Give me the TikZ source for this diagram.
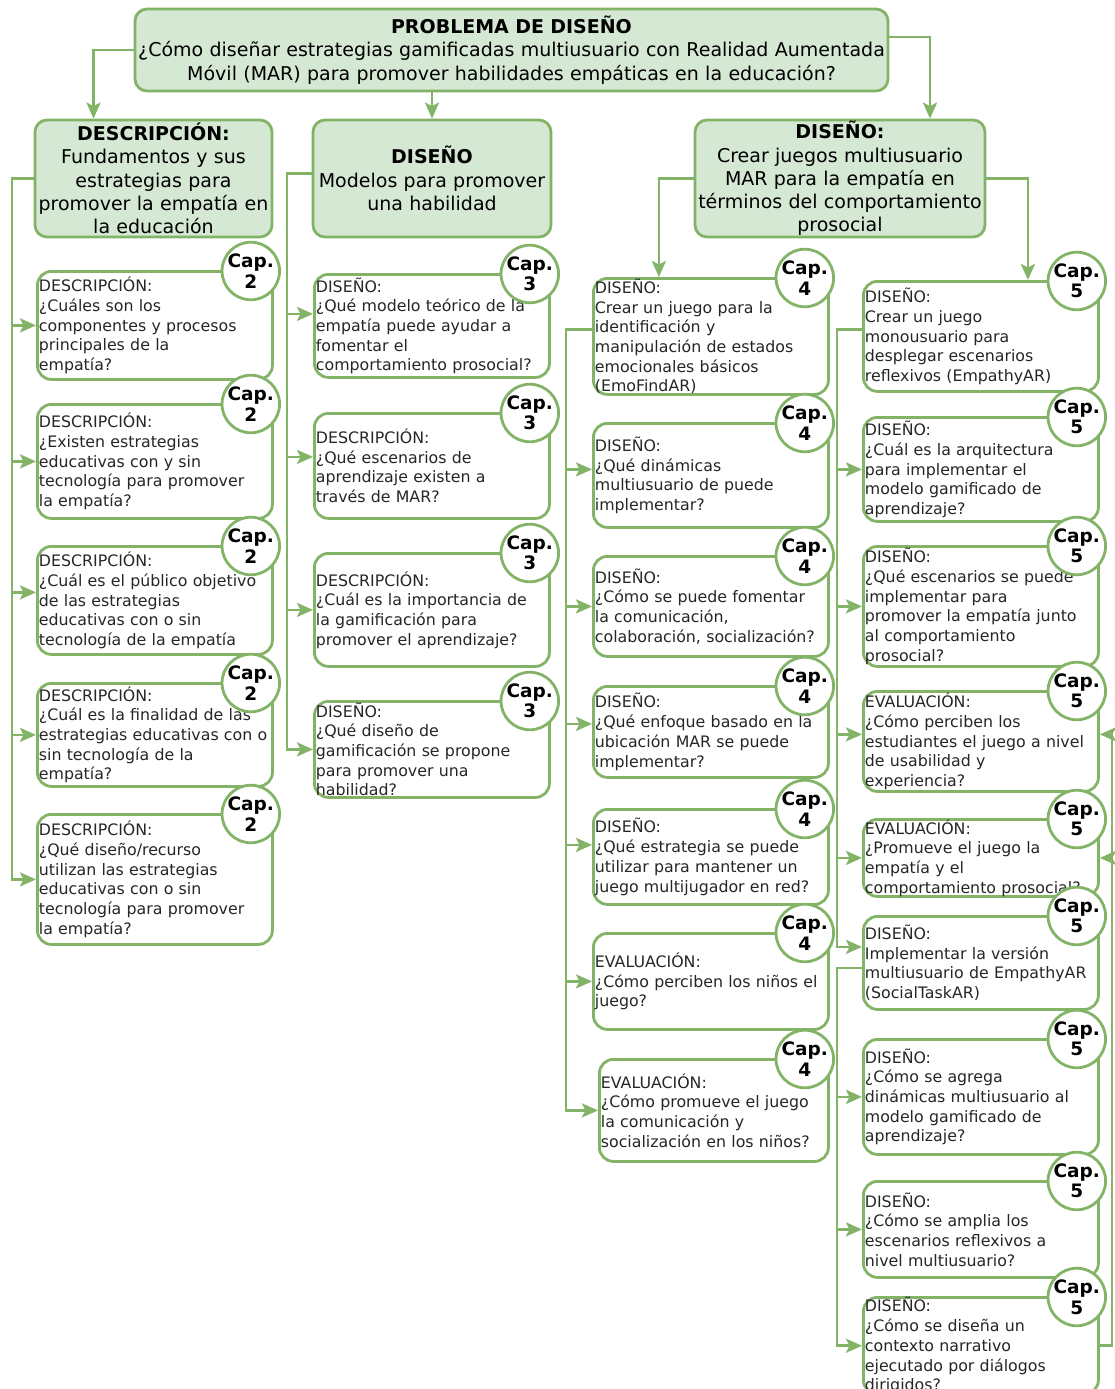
\documentclass[tikz,border=0pt]{standalone}
\usepackage{fontspec}
\setmainfont{DejaVu Sans}
\usetikzlibrary{positioning, arrows.meta}
\definecolor{mGreen}{HTML}{82B366}
\definecolor{mGreenFill}{HTML}{D5E8D4}
\definecolor{mInk}{HTML}{262626}
\newcommand{\qfont}{\fontsize{15.8}{19.7}\selectfont}
\newcommand{\hfont}{\fontsize{19}{23.3}\selectfont}
\newcommand{\cfont}{\fontsize{18.5}{20.5}\selectfont\bfseries}

\begin{document}
\begin{tikzpicture}[
  x=1pt, y=-1pt,
  head/.style={
    fill=mGreenFill,
    draw=mGreen,
    line width=2.8pt,
    rounded corners=12pt,
    align=center,
    font=\hfont,
    text=black,
    inner xsep=-6pt,
    inner ysep=0pt
  },
  ques/.style={
    fill=white,
    draw=mGreen,
    line width=2.8pt,
    rounded corners=14pt,
    align=left,
    font=\qfont,
    text=mInk,
    anchor=north west,
    inner xsep=1.5pt,
    inner ysep=0pt,
    text width=232pt
  },
  chap/.style={
    circle,
    fill=white,
    draw=mGreen,
    line width=2.8pt,
    minimum size=51pt,
    inner sep=0pt,
    align=center,
    font=\cfont
  },
  link/.style={draw=mGreen, line width=2.8pt, -{Stealth[length=16pt, width=14pt, inset=3.5pt]}}
]
\useasboundingbox (0,0) rectangle (1115,1389);

% cabeceras
\node[head, text width=765pt, minimum height=82pt] (prob) at (511.5,50)
{\textbf{PROBLEMA DE DISEÑO}\\¿Cómo diseñar estrategias gamificadas multiusuario con Realidad Aumentada\\Móvil (MAR) para promover habilidades empáticas en la educación?};

\node[head, text width=249pt, minimum height=117pt] (desc) at (153.5,178.5)
{\textbf{DESCRIPCIÓN:}\\Fundamentos y sus\\estrategias para\\promover la empatía en\\la educación};
\node[head, text width=250pt, minimum height=117pt] (dis) at (432,178.5)
{\textbf{DISEÑO}\\Modelos para promover\\una habilidad};
\node[head, text width=302pt, minimum height=117pt] (crea) at (840,178.5)
{\textbf{DISEÑO:}\\Crear juegos multiusuario\\MAR para la empatía en\\términos del comportamiento\\prosocial};

% capitulo 2
\node[ques, minimum height=108pt] (d1) at (36,270)
{DESCRIPCIÓN:\\¿Cuáles son los\\componentes y procesos\\principales de la\\empatía?};
\node[ques, minimum height=114pt] (d2) at (36,403)
{DESCRIPCIÓN:\\¿Existen estrategias\\educativas con y sin\\tecnología para promover\\la empatía?};
\node[ques, minimum height=108pt] (d3) at (36,545)
{DESCRIPCIÓN:\\¿Cuál es el público objetivo\\de las estrategias\\educativas con o sin\\tecnología de la empatía};
\node[ques, minimum height=103pt] (d4) at (36,682)
{DESCRIPCIÓN:\\¿Cuál es la finalidad de las\\estrategias educativas con o\\sin tecnología de la\\empatía?};
\node[ques, minimum height=130pt] (d5) at (36,813)
{DESCRIPCIÓN:\\¿Qué diseño/recurso\\utilizan las estrategias\\educativas con o sin\\tecnología para promover\\la empatía?};

% capitulo 3
\node[ques, minimum height=103pt] (m1) at (313,273)
{DISEÑO:\\¿Qué modelo teórico de la\\empatía puede ayudar a\\fomentar el\\comportamiento prosocial?};
\node[ques, minimum height=105pt] (m2) at (313,412)
{DESCRIPCIÓN:\\¿Qué escenarios de\\aprendizaje existen a\\través de MAR?};
\node[ques, minimum height=113pt] (m3) at (313,552)
{DESCRIPCIÓN:\\¿Cuál es la importancia de\\la gamificación para\\promover el aprendizaje?};
\node[ques, minimum height=96pt] (m4) at (313,700)
{DISEÑO:\\¿Qué diseño de\\gamificación se propone\\para promover una\\habilidad?};

% capitulo 4
\node[ques, minimum height=116pt] (g1) at (592,277)
{DISEÑO:\\Crear un juego para la\\identificación y\\manipulación de estados\\emocionales básicos\\(EmoFindAR)};
\node[ques, minimum height=104pt] (g2) at (592,422)
{DISEÑO:\\¿Qué dinámicas\\multiusuario de puede\\implementar?};
\node[ques, minimum height=100pt] (g3) at (592,555)
{DISEÑO:\\¿Cómo se puede fomentar\\la comunicación,\\colaboración, socialización?};
\node[ques, minimum height=91pt] (g4) at (592,685)
{DISEÑO:\\¿Qué enfoque basado en la\\ubicación MAR se puede\\implementar?};
\node[ques, minimum height=95pt] (g5) at (592,808)
{DISEÑO:\\¿Qué estrategia se puede\\utilizar para mantener un\\juego multijugador en red?};
\node[ques, minimum height=96pt] (g6) at (592,932)
{EVALUACIÓN:\\¿Cómo perciben los niños el\\juego?};
\node[ques, minimum height=102pt, text width=226pt] (g7) at (598,1058)
{EVALUACIÓN:\\¿Cómo promueve el juego\\la comunicación y\\socialización en los niños?};

% capitulo 5
\node[ques, minimum height=110pt] (s1) at (862,280)
{DISEÑO:\\Crear un juego\\monousuario para\\desplegar escenarios\\reflexivos (EmpathyAR)};
\node[ques, minimum height=104pt] (s2) at (862,416)
{DISEÑO:\\¿Cuál es la arquitectura\\para implementar el\\modelo gamificado de\\aprendizaje?};
\node[ques, minimum height=120pt] (s3) at (862,545)
{DISEÑO:\\¿Qué escenarios se puede\\implementar para\\promover la empatía junto\\al comportamiento\\prosocial?};
\node[ques, minimum height=100pt] (s4) at (862,690)
{EVALUACIÓN:\\¿Cómo perciben los\\estudiantes el juego a nivel\\de usabilidad y\\experiencia?};
\node[ques, minimum height=76pt] (s5) at (862,818)
{EVALUACIÓN:\\¿Promueve el juego la\\empatía y el\\comportamiento prosocial?};
\node[ques, minimum height=93pt] (s6) at (862,915)
{DISEÑO:\\Implementar la versión\\multiusuario de EmpathyAR\\(SocialTaskAR)};
\node[ques, minimum height=115pt] (s7) at (862,1038)
{DISEÑO:\\¿Cómo se agrega\\dinámicas multiusuario al\\modelo gamificado de\\aprendizaje?};
\node[ques, minimum height=96pt] (s8) at (862,1180)
{DISEÑO:\\¿Cómo se amplia los\\escenarios reflexivos a\\nivel multiusuario?};
\node[ques, minimum height=94pt] (s9) at (862,1296)
{DISEÑO:\\¿Cómo se diseña un\\contexto narrativo\\ejecutado por diálogos\\dirigidos?};

% circulos de capitulo
\node[chap] (d1c) at ([xshift=-23pt, yshift=-1pt]d1.north east) {Cap.\\2};
\node[chap] (d2c) at ([xshift=-23pt, yshift=-1pt]d2.north east) {Cap.\\2};
\node[chap] (d3c) at ([xshift=-23pt, yshift=-1pt]d3.north east) {Cap.\\2};
\node[chap] (d4c) at ([xshift=-23pt, yshift=-1pt]d4.north east) {Cap.\\2};
\node[chap] (d5c) at ([xshift=-23pt, yshift=-1pt]d5.north east) {Cap.\\2};
\node[chap] (m1c) at ([xshift=-21pt, yshift=-1pt]m1.north east) {Cap.\\3};
\node[chap] (m2c) at ([xshift=-21pt, yshift=-1pt]m2.north east) {Cap.\\3};
\node[chap] (m3c) at ([xshift=-21pt, yshift=-1pt]m3.north east) {Cap.\\3};
\node[chap] (m4c) at ([xshift=-21pt, yshift=-1pt]m4.north east) {Cap.\\3};
\node[chap] (g1c) at ([xshift=-25pt, yshift=-1pt]g1.north east) {Cap.\\4};
\node[chap] (g2c) at ([xshift=-25pt, yshift=-1pt]g2.north east) {Cap.\\4};
\node[chap] (g3c) at ([xshift=-25pt, yshift=-1pt]g3.north east) {Cap.\\4};
\node[chap] (g4c) at ([xshift=-25pt, yshift=-1pt]g4.north east) {Cap.\\4};
\node[chap] (g5c) at ([xshift=-25pt, yshift=-1pt]g5.north east) {Cap.\\4};
\node[chap] (g6c) at ([xshift=-25pt, yshift=-1pt]g6.north east) {Cap.\\4};
\node[chap] (g7c) at ([xshift=-25pt, yshift=-1pt]g7.north east) {Cap.\\4};
\node[chap] (s1c) at ([xshift=-23pt, yshift=-1pt]s1.north east) {Cap.\\5};
\node[chap] (s2c) at ([xshift=-23pt, yshift=-1pt]s2.north east) {Cap.\\5};
\node[chap] (s3c) at ([xshift=-23pt, yshift=-1pt]s3.north east) {Cap.\\5};
\node[chap] (s4c) at ([xshift=-23pt, yshift=-1pt]s4.north east) {Cap.\\5};
\node[chap] (s5c) at ([xshift=-23pt, yshift=-1pt]s5.north east) {Cap.\\5};
\node[chap] (s6c) at ([xshift=-23pt, yshift=-1pt]s6.north east) {Cap.\\5};
\node[chap] (s7c) at ([xshift=-23pt, yshift=-1pt]s7.north east) {Cap.\\5};
\node[chap] (s8c) at ([xshift=-23pt, yshift=-1pt]s8.north east) {Cap.\\5};
\node[chap] (s9c) at ([xshift=-23pt, yshift=-1pt]s9.north east) {Cap.\\5};

% lineas guia
\coordinate (lt) at (12,0);
\coordinate (mt) at (287,0);
\coordinate (gt) at (566,0);
\coordinate (st) at (837,0);
\coordinate (rt) at (1112,0);

\draw[link] (prob.west) -| ([xshift=-60pt]desc.north);
\draw[link] (prob.south -| dis.north) -- (dis.north);
\draw[link] ([yshift=13pt]prob.east) -| ([xshift=90pt]crea.north);

\draw[link] (desc.west) -- (desc.west -| lt) |- (d5.west);
\draw[link] (lt |- d1.west) -- (d1.west);
\draw[link] (lt |- d2.west) -- (d2.west);
\draw[link] ([yshift=8pt]lt |- d3.west) -- ([yshift=8pt]d3.west);
\draw[link] (lt |- d4.west) -- (d4.west);

\draw[link] ([yshift=5pt]dis.west) -- ([yshift=5pt]dis.west -| mt) |- (m4.west);
\draw[link] ([yshift=12pt]mt |- m1.west) -- ([yshift=12pt]m1.west);
\draw[link] ([yshift=9pt]mt |- m2.west) -- ([yshift=9pt]m2.west);
\draw[link] (mt |- m3.west) -- (m3.west);

\draw[link] (crea.west) -| ([xshift=-52pt]g1.north);
\draw[link] (crea.east) -| ([xshift=47pt]s1.north);

\draw[link] ([yshift=7pt]g1.west) -- ([yshift=7pt]g1.west -| gt) |- (g7.west);
\draw[link] ([yshift=6pt]gt |- g2.west) -- ([yshift=6pt]g2.west);
\draw[link] (gt |- g3.west) -- (g3.west);
\draw[link] ([yshift=8pt]gt |- g4.west) -- ([yshift=8pt]g4.west);
\draw[link] ([yshift=12pt]gt |- g5.west) -- ([yshift=12pt]g5.west);
\draw[link] (gt |- g6.west) -- (g6.west);

\draw[link] ([yshift=7pt]s1.west) -- ([yshift=7pt]s1.west -| st) |- ([yshift=16pt]s6.west);
\draw[link] (st |- s2.west) -- (s2.west);
\draw[link] (st |- s3.west) -- (s3.west);
\draw[link] ([yshift=7pt]st |- s4.west) -- ([yshift=7pt]s4.west);
\draw[link] (st |- s5.west) -- (s5.west);
\draw[link] ([yshift=-5pt]s6.west) -- ([yshift=-5pt]s6.west -| st) |- (s9.west);
\draw[link] (st |- s7.west) -- (s7.west);
\draw[link] (st |- s8.west) -- (s8.west);

\draw[link] (s9.east) -- (s9.east -| rt) |- ([yshift=7pt]s4.east);
\draw[link] (rt |- s5.east) -- (s5.east);

\end{tikzpicture}
\end{document}
